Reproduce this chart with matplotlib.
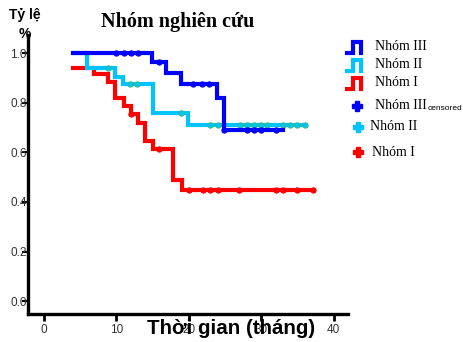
import numpy as np
import matplotlib.pyplot as plt
from matplotlib.lines import Line2D

# Kaplan-Meier steps (time in months, survival proportion)
t_nhom3 = [4, 14.9, 16.9, 18.9, 23.9, 24.9, 33]
s_nhom3 = [1.0, 0.964, 0.919, 0.877, 0.819, 0.69, 0.69]
t_nhom2 = [4, 5.9, 9.8, 10.9, 15.1, 19.9, 36.1]
s_nhom2 = [1.0, 0.94, 0.903, 0.875, 0.758, 0.71, 0.71]
t_nhom1 = [4, 6.9, 8.85, 9.8, 11.1, 12.0, 13.0, 14.0, 15.1, 17.8, 19.1, 37.1]
s_nhom1 = [0.94, 0.915, 0.883, 0.819, 0.786, 0.754, 0.718, 0.645, 0.613, 0.488, 0.448, 0.448]

# censored times
c_nhom3 = [10, 11, 12, 13, 15.9, 20.6, 21.9, 22.8, 24.9, 28, 29, 30, 32]
c_nhom2 = [8.9, 11.9, 12.9, 18.9, 23, 24, 27.1, 28, 29, 30, 30.8, 33, 34, 35, 36.1]
c_nhom1 = [12.0, 15.9, 20, 22, 23, 24, 27, 32, 33, 35, 37.1]

mau_nhom3 = '#0000ff'
mau_nhom2 = '#00c4ff'
mau_nhom1 = '#ff0000'


def gia_tri(t, s, c):
    idx = np.searchsorted(t, c, side='right') - 1
    return np.array(s)[idx]


W, H = 463, 342
fig = plt.figure(figsize=(W / 100, H / 100), dpi=100)
ax = fig.add_axes([28 / W, 1 - 314 / H, 320 / W, 279 / H])

series = [
    (t_nhom1, s_nhom1, c_nhom1, mau_nhom1, mau_nhom1),
    (t_nhom2, s_nhom2, c_nhom2, mau_nhom2, '#33bb77'),
    (t_nhom3, s_nhom3, c_nhom3, mau_nhom3, mau_nhom3),
]
for t, s, c, mau, vien in series:
    ax.step(t, s, where='post', color=mau, lw=3, solid_joinstyle='miter')
    ax.plot(c, gia_tri(t, s, c), 'o', ms=3.8, color=mau, mec=vien, mew=0.7)

ax.set_xlim(-2.2, 42.0)
ax.set_ylim(-0.052, 1.073)
ax.set_xticks([0, 10, 20, 30, 40])
ax.set_yticks([0.0, 0.2, 0.4, 0.6, 0.8, 1.0])
ax.set_yticklabels(['0.0', '0.2', '0.4', '0.6', '0.8', '1.0'])
for sp in ['top', 'right']:
    ax.spines[sp].set_visible(False)
for sp in ['left', 'bottom']:
    ax.spines[sp].set_linewidth(2.4)
ax.tick_params(axis='x', length=5, width=2, pad=2, labelsize=8.5, labelcolor='#333333')
ax.tick_params(axis='y', length=4, width=1.5, pad=-3, labelsize=8.5, labelcolor='#333333')
for lb in ax.get_xticklabels() + ax.get_yticklabels():
    lb.set_family('Liberation Sans')

fig.text(178 / W, 1 - 22 / H, 'Nhóm nghiên cứu', ha='center', va='center',
         family='Liberation Serif', fontweight='bold', fontsize=14.5)
fig.text(25 / W, 1 - 15 / H, 'Tỷ lệ', ha='center', va='center',
         family='Liberation Sans', fontweight='bold', fontsize=10)
fig.text(25 / W, 1 - 34 / H, '%', ha='center', va='center',
         family='Liberation Sans', fontweight='bold', fontsize=10)
fig.text(231 / W, 1 - 329 / H, 'Thời gian (tháng)', ha='center', va='center',
         family='Liberation Sans', fontweight='bold', fontsize=14.8)

# legend on the right
def px(x, y):
    return x / W, 1 - y / H

ten = ['Nhóm III', 'Nhóm II', 'Nhóm I']
mau = [mau_nhom3, mau_nhom2, mau_nhom1]
for i, (n, m) in enumerate(zip(ten, mau)):
    y0 = 47 + 18 * i
    xs = [347, 353, 353, 361, 361]
    ys = [y0 + 6, y0 + 6, y0 - 5, y0 - 5, y0 + 6]
    fx, fy = zip(*[px(a, b) for a, b in zip(xs, ys)])
    fig.add_artist(Line2D(fx, fy, color=m, lw=3, solid_joinstyle='miter'))
    fig.text(*px(375, y0), n, ha='left', va='center', family='Liberation Serif', fontsize=10)

cens = [(357, 106, 375, 'Nhóm III'), (358, 127, 370, 'Nhóm II'), (358, 152, 372, 'Nhóm I')]
for (xm, ym, xt, n), m in zip(cens, mau):
    fig.add_artist(Line2D([xm / W], [1 - ym / H], marker='P', ms=7, color=m, mec=m))
    fig.text(*px(xt, ym), n, ha='left', va='center', family='Liberation Serif', fontsize=10)
fig.text(*px(428, 108), 'censored', ha='left', va='center', family='Liberation Sans', fontsize=6)

fig.savefig('out.png', dpi=100)
